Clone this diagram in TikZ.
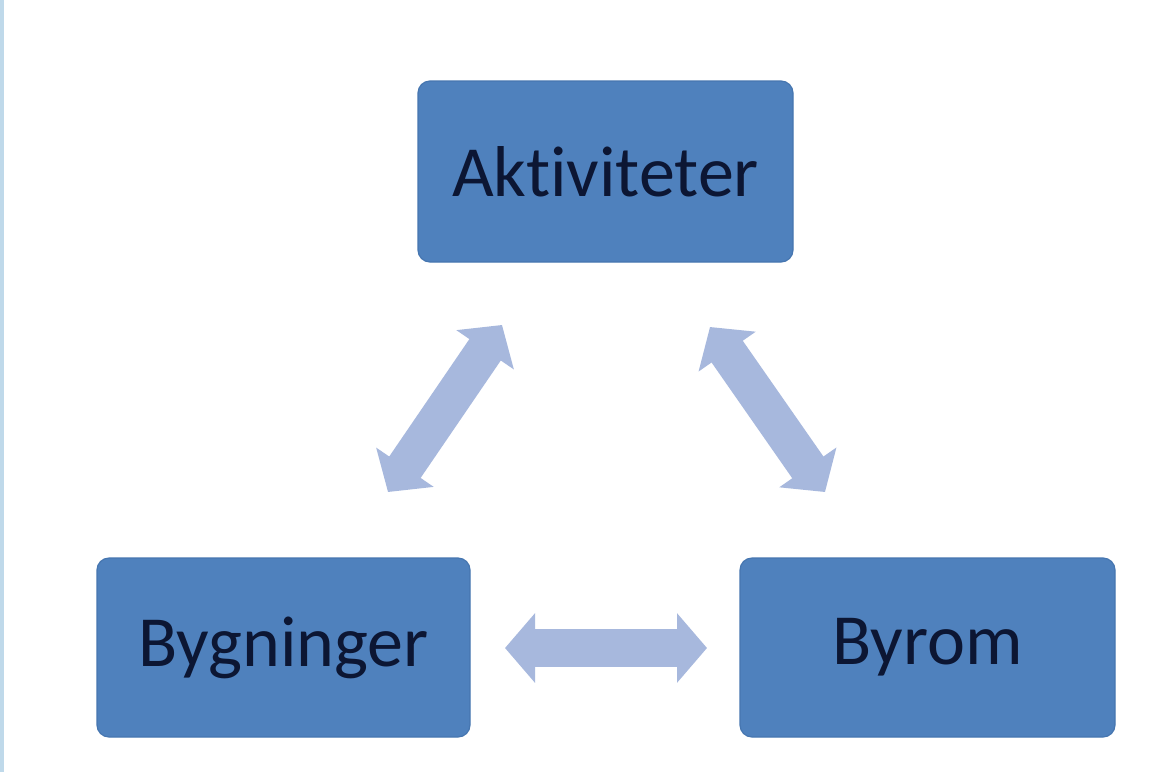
\documentclass[tikz,border=0pt]{standalone}
\usepackage{fontspec}
\setmainfont{Carlito}[Ligatures=CommonOff]
\usetikzlibrary{arrows.meta}
\definecolor{boxblue}{HTML}{4F81BD}
\definecolor{boxedge}{HTML}{4676B0}
\definecolor{arrowblue}{HTML}{A7B8DD}
\definecolor{textnavy}{HTML}{0C1633}
\definecolor{stripblue}{HTML}{BFD9EA}
\begin{document}
\begin{tikzpicture}[x=1pt,y=-1pt,
  conceptbox/.style={rectangle, rounded corners=12pt, fill=boxblue, draw=boxedge, line width=1.2pt,
    text=textnavy, font=\fontsize{72}{80}\selectfont, inner sep=0pt, anchor=center},
  linkarrow/.style={draw=arrowblue, line width=38pt,
    {Triangle[length=30pt,width=68pt,color=arrowblue]}-{Triangle[length=30pt,width=68pt,color=arrowblue]}}
]
\useasboundingbox (0,0) rectangle (1175,772);
\fill[white] (0,0) rectangle (1175,772);
\fill[stripblue] (0,0) rectangle (4,772);

\node[conceptbox, minimum width=375pt, minimum height=181pt] (akt) at (605.5,171.5) {Aktiviteter};
\node[conceptbox, minimum width=373pt, minimum height=179pt] (byg) at (283.5,647.5) {Bygninger};
\node[conceptbox, minimum width=375pt, minimum height=179pt] (byr) at (927.5,647.5) {Byrom};

\coordinate (l1) at (388,492);
\coordinate (l2) at (502,325);
\coordinate (r1) at (710,327);
\coordinate (r2) at (825,492);
\coordinate (h1) at (505,648);
\coordinate (h2) at (707,648);

\draw[linkarrow] (l1) -- (l2);
\draw[linkarrow] (r1) -- (r2);
\draw[linkarrow] (h1) -- (h2);
\end{tikzpicture}
\end{document}
